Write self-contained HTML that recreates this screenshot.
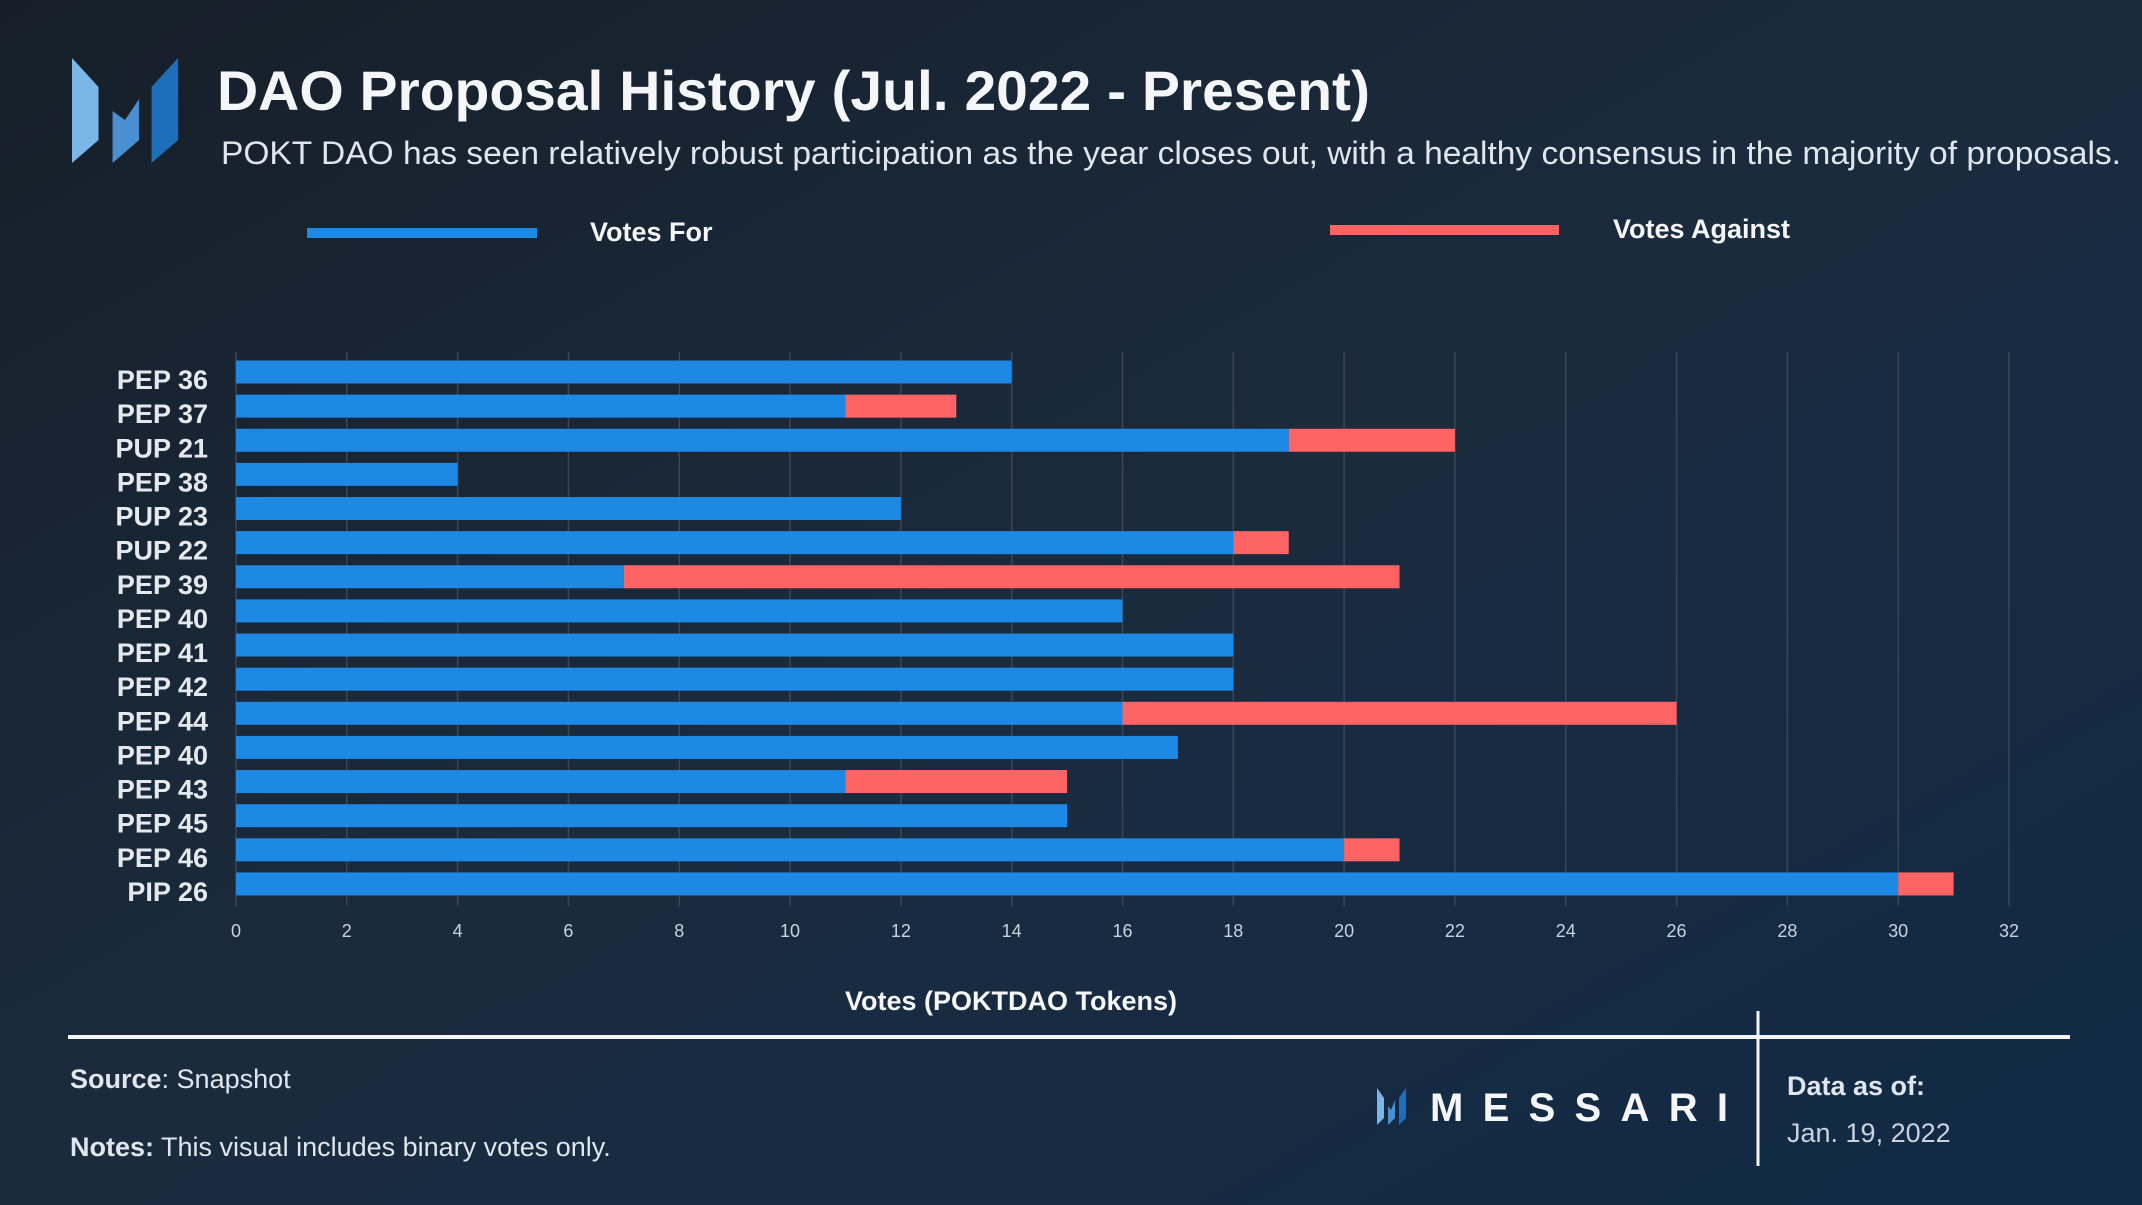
<!DOCTYPE html>
<html><head><meta charset="utf-8">
<style>
html,body{margin:0;padding:0;width:2142px;height:1205px;overflow:hidden;background:#18243a;}
svg{display:block;font-family:"Liberation Sans",sans-serif;}
</style></head>
<body>
<svg id="chart" width="2142" height="1205" viewBox="0 0 2142 1205">
<defs>
<linearGradient id="bg" x1="0" y1="0" x2="1" y2="1">
<stop offset="0" stop-color="#161f29"/><stop offset="0.5" stop-color="#1b2b3e"/><stop offset="1" stop-color="#112a46"/>
</linearGradient>
</defs>
<rect width="2142" height="1205" fill="url(#bg)"/>
<g transform="translate(72,0) scale(1.56,1) translate(-48,0)">
<polygon points="48,58 65,87 65,140 48,163" fill="#7ab6e6"/>
<polygon points="74,111 82,120 91,99 91,140 74,163" fill="#4a8fcf"/>
<polygon points="116,58 116,140 99,163 99,87" fill="#1e6fbb"/>
</g>
<text x="217" y="110" font-size="56" font-weight="bold" fill="#f4f6f9" textLength="1153" lengthAdjust="spacingAndGlyphs">DAO Proposal History (Jul. 2022 - Present)</text>
<text x="221" y="164" font-size="32" fill="#dfe6ee" textLength="1900" lengthAdjust="spacingAndGlyphs">POKT DAO has seen relatively robust participation as the year closes out, with a healthy consensus in the majority of proposals.</text>
<g>
<rect x="307" y="228" width="230" height="10" fill="#1e88e5"/>
<text x="590" y="241" font-size="27" font-weight="bold" fill="#f4f6f9">Votes For</text>
<rect x="1330" y="225" width="229" height="10" fill="#ff6464"/>
<text x="1613" y="238" font-size="27" font-weight="bold" fill="#f4f6f9">Votes Against</text>
</g>
<g id="plot"></g>
<text x="1011" y="1010" font-size="27" font-weight="bold" fill="#f4f6f9" text-anchor="middle">Votes (POKTDAO Tokens)</text>
<line x1="68" y1="1037" x2="2070" y2="1037" stroke="#f4f6f9" stroke-width="4"/>
<line x1="1758" y1="1011" x2="1758" y2="1166" stroke="#f4f6f9" stroke-width="3"/>
<text x="70" y="1088" font-size="27" fill="#dfe6ee"><tspan font-weight="bold">Source</tspan>: Snapshot</text>
<text x="70" y="1156" font-size="27" fill="#dfe6ee"><tspan font-weight="bold">Notes:</tspan> This visual includes binary votes only.</text>
<g>
<polygon points="1377,1088 1384,1098 1384,1118 1377,1125" fill="#7ab6e6"/>
<polygon points="1388,1106 1391,1110 1395,1100 1395,1118 1388,1125" fill="#4a8fcf"/>
<polygon points="1406,1088 1406,1118 1399,1125 1399,1098" fill="#1e6fbb"/>
<text x="1430" y="1121" font-size="40" font-weight="bold" fill="#f4f6f9" textLength="298" lengthAdjust="spacing">MESSARI</text>
</g>
<text x="1787" y="1095" font-size="27" font-weight="bold" fill="#dfe6ee">Data as of:</text>
<text x="1787" y="1142" font-size="27" fill="#c8d3de">Jan. 19, 2022</text>
</svg>
<script>
const categories = ["PEP 36","PEP 37","PUP 21","PEP 38","PUP 23","PUP 22","PEP 39","PEP 40","PEP 41","PEP 42","PEP 44","PEP 40","PEP 43","PEP 45","PEP 46","PIP 26"];
const votesFor = [14,11,19,4,12,18,7,16,18,18,16,17,11,15,20,30];
const votesAgainst = [0,2,3,0,0,1,14,0,0,0,10,0,4,0,1,1];
const xTicks = [0,2,4,6,8,10,12,14,16,18,20,22,24,26,28,30,32];

const NS = "http://www.w3.org/2000/svg";
const plot = document.getElementById("plot");
const x0 = 236, x1 = 2009, xMax = 32;
const yTop = 352, yBot = 906, firstC = 372, step = 34.13, barH = 23;
const xs = v => x0 + (v / xMax) * (x1 - x0);
const ys = i => firstC + i * step;
function mk(tag, attrs) {
  const e = document.createElementNS(NS, tag);
  for (const k in attrs) e.setAttribute(k, attrs[k]);
  plot.appendChild(e);
  return e;
}
xTicks.forEach(t => {
  const g = mk("line", {x1: xs(t), x2: xs(t), y1: yTop, y2: yBot, stroke: "#3a4656", "stroke-width": 1.5});
  
  
  const tl = mk("text", {x: xs(t), y: 937, "font-size": 18, fill: "#c8d3de", "text-anchor": "middle"});
  tl.textContent = t;
  
  
});
categories.forEach((c, i) => {
  const cy = ys(i);
  const b = mk("rect", {x: xs(0), y: cy - barH / 2, width: xs(votesFor[i]) - xs(0), height: barH, fill: "#1e88e5"});
  
  
  if (votesAgainst[i] > 0) {
    const r = mk("rect", {x: xs(votesFor[i]), y: cy - barH / 2, width: xs(votesFor[i] + votesAgainst[i]) - xs(votesFor[i]), height: barH, fill: "#ff6464"});
    
    
  }
  const l = mk("text", {x: 208, y: cy + 17, "font-size": 27, "font-weight": "bold", fill: "#e4e9ef", "text-anchor": "end"});
  l.textContent = c;
  
  
});
</script>
</body></html>
